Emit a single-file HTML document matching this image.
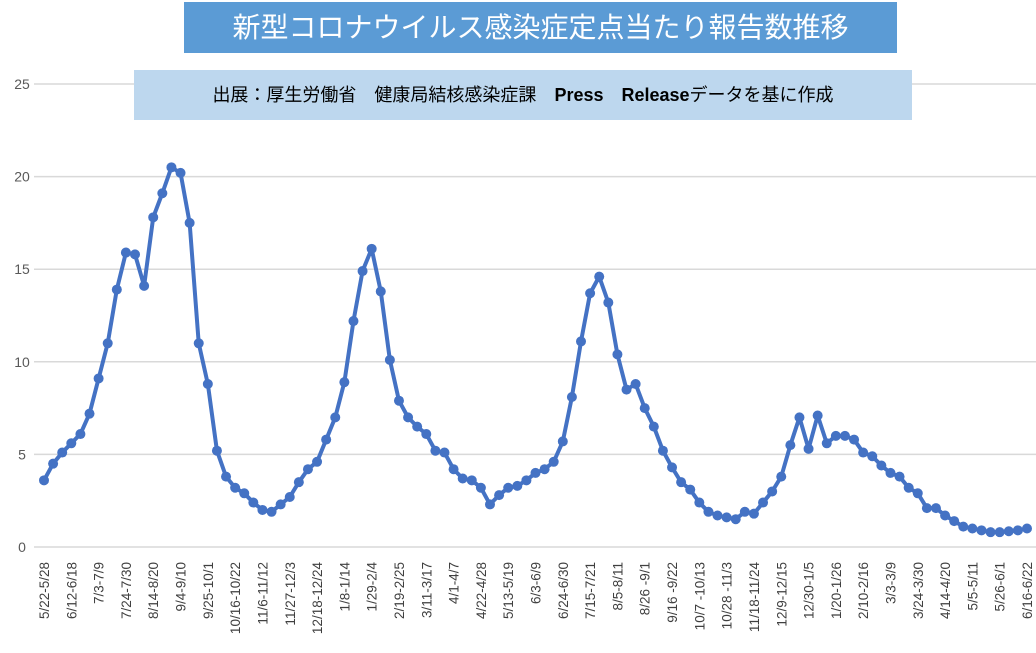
<!DOCTYPE html>
<html><head><meta charset="utf-8"><style>
body{margin:0;background:#fff;width:1036px;height:653px;overflow:hidden;font-family:"Liberation Sans","Noto Sans CJK JP",sans-serif}
#title{position:absolute;left:184px;top:2px;width:713px;height:51px;background:#5b9bd5;color:#fff;font-size:28px;line-height:51px;text-align:center}
#sub{position:absolute;left:134px;top:70px;width:778px;height:50px;background:#bdd7ee;color:#000;font-size:18px;line-height:50px;text-align:center;white-space:pre}
svg{position:absolute;left:0;top:0}
</style></head><body>
<svg id="chart" width="1036" height="653"></svg>
<div id="title">新型コロナウイルス感染症定点当たり報告数推移</div>
<div id="sub">出展：厚生労働省　健康局結核感染症課　<b>Press　Release</b>データを基に作成</div>
<script>
const values=[3.6,4.5,5.1,5.6,6.1,7.2,9.1,11.0,13.9,15.9,15.8,14.1,17.8,19.1,20.5,20.2,17.5,11.0,8.8,5.2,3.8,3.2,2.9,2.4,2.0,1.9,2.3,2.7,3.5,4.2,4.6,5.8,7.0,8.9,12.2,14.9,16.1,13.8,10.1,7.9,7.0,6.5,6.1,5.2,5.1,4.2,3.7,3.6,3.2,2.3,2.8,3.2,3.3,3.6,4.0,4.2,4.6,5.7,8.1,11.1,13.7,14.6,13.2,10.4,8.5,8.8,7.5,6.5,5.2,4.3,3.5,3.1,2.4,1.9,1.7,1.6,1.5,1.9,1.8,2.4,3.0,3.8,5.5,7.0,5.3,7.1,5.6,6.0,6.0,5.8,5.1,4.9,4.4,4.0,3.8,3.2,2.9,2.1,2.1,1.7,1.4,1.1,1.0,0.9,0.8,0.8,0.85,0.9,1.0];
const xLabels=["5/22-5/28","6/12-6/18","7/3-7/9","7/24-7/30","8/14-8/20","9/4-9/10","9/25-10/1","10/16-10/22","11/6-11/12","11/27-12/3","12/18-12/24","1/8-1/14","1/29-2/4","2/19-2/25","3/11-3/17","4/1-4/7","4/22-4/28","5/13-5/19","6/3-6/9","6/24-6/30","7/15-7/21","8/5-8/11","8/26 -9/1","9/16 -9/22","10/7 -10/13","10/28 -11/3","11/18-11/24","12/9-12/15","12/30-1/5","1/20-1/26","2/10-2/16","3/3-3/9","3/24-3/30","4/14-4/20","5/5-5/11","5/26-6/1","6/16-6/22"];
const yTicks=[0,5,10,15,20,25];
const labelEvery=3;
const NS="http://www.w3.org/2000/svg";
const svg=document.getElementById('chart');
const x0=44,x1=1027,y0=547,y25=84;
const xs=i=>x0+(x1-x0)*i/(values.length-1);
const ys=v=>y0-(y0-y25)*v/25;
function mk(t,a){const e=document.createElementNS(NS,t);for(const k in a)e.setAttribute(k,a[k]);svg.appendChild(e);return e;}
yTicks.forEach(t=>{
  const g=mk('line',{x1:34,x2:1036,y1:ys(t),y2:ys(t),stroke:'#d9d9d9','stroke-width':1.5});
  
  
  const tx=mk('text',{x:22,y:ys(t)+5,'text-anchor':'middle','font-size':14,fill:'#595959'});
  tx.textContent=t;
  
  
});
xLabels.forEach((l,k)=>{
  const x=xs(k*labelEvery);
  const tx=mk('text',{transform:`translate(${x+5},562) rotate(-90)`,'text-anchor':'end','font-size':13.5,fill:'#404040'});
  tx.textContent=l;
  
  
});
const line=mk('polyline',{points:values.map((v,i)=>xs(i)+','+ys(v)).join(' '),fill:'none',stroke:'#4472c4','stroke-width':4,'stroke-linejoin':'round'});


values.forEach((v,i)=>{
  const c=mk('circle',{cx:xs(i),cy:ys(v),r:5,fill:'#4472c4'});
  
  
});
</script>
</body></html>
